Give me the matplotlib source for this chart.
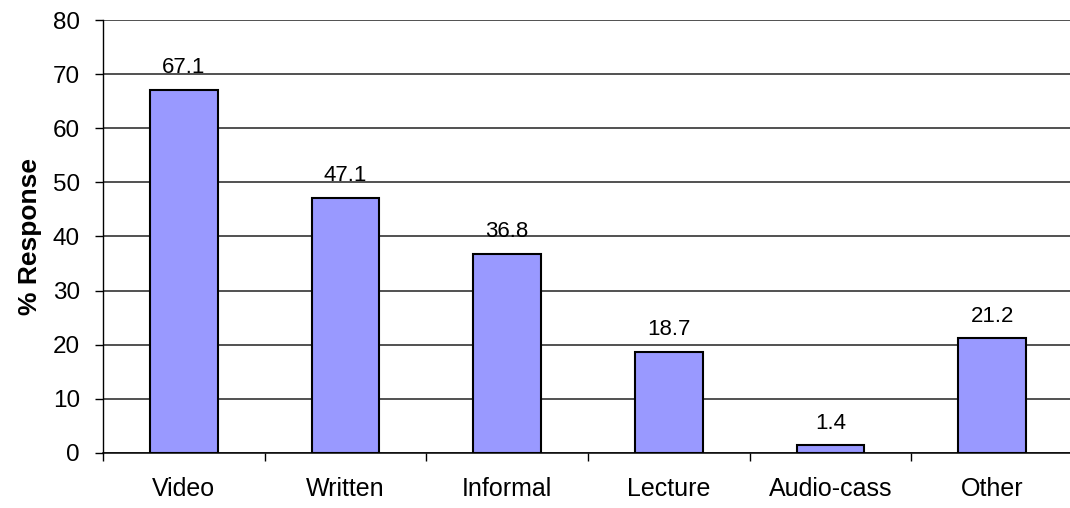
import numpy as np
import matplotlib.pyplot as plt

plt.rcParams['font.family'] = ['Liberation Sans', 'DejaVu Sans']

categories = ['Video', 'Written', 'Informal', 'Lecture', 'Audio-cass', 'Other']
values = [67.1, 47.1, 36.8, 18.7, 1.4, 21.2]
yticks = [0, 10, 20, 30, 40, 50, 60, 70, 80]

fig = plt.figure(figsize=(10.7, 5.08), dpi=100)
# right edge of the plot area runs slightly past the image border
ax = fig.add_axes([0.0963, 0.1083, 0.9065, 0.8523])

x = np.arange(len(categories))
ax.bar(x, values, width=0.42, color='#9999FF', edgecolor='black', linewidth=1.5, zorder=3)

for xi, v in zip(x, values):
    ax.annotate(f'{v:.1f}', xy=(xi, v), xytext=(0, 12), textcoords='offset points',
                ha='center', va='baseline', fontsize=16)

ax.set_xlim(-0.5, len(categories) - 0.5)
ax.set_ylim(0, 80)
ax.set_yticks(yticks)
ax.tick_params(axis='y', labelsize=17.5, length=6, width=1, pad=10.5)
ax.yaxis.grid(True, color='#222222', linewidth=1.1, zorder=0)

# ticks between categories, labels centered
ax.set_xticks(np.arange(len(categories) + 1) - 0.5)
ax.set_xticklabels([])
ax.set_xticks(x, minor=True)
ax.set_xticklabels(categories, minor=True)
ax.tick_params(axis='x', which='major', length=6, width=1, direction='out')
ax.tick_params(axis='x', which='minor', length=0, labelsize=18, pad=17)

for s in ['top', 'right']:
    ax.spines[s].set_visible(False)
ax.spines['left'].set_linewidth(1)
ax.spines['bottom'].set_linewidth(1.1)

ax.set_ylabel('% Response', fontsize=19, fontweight='bold', labelpad=8)

plt.savefig('out.png', dpi=100)
